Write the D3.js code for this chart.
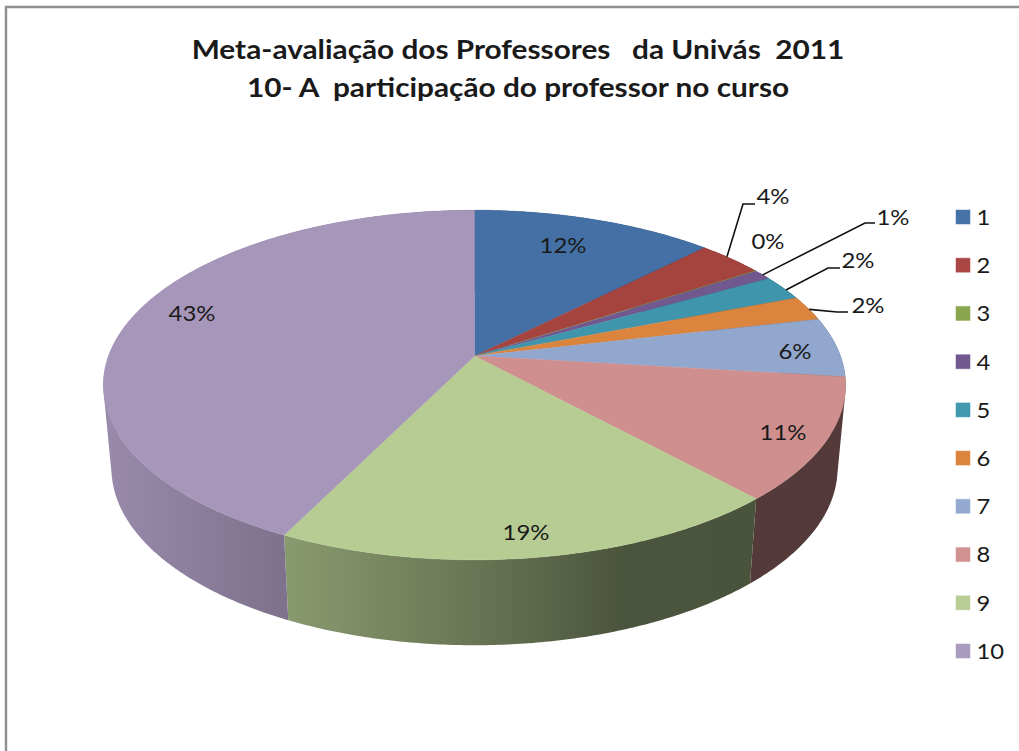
<!DOCTYPE html>
<html><head><meta charset="utf-8">
<script src="https://cdn.jsdelivr.net/npm/d3@7/dist/d3.min.js"></script>
<style>
html,body{margin:0;padding:0;background:#fff}
svg{display:block}
text{font-family:Lato,"Noto Sans",sans-serif;fill:#1a1a1a;white-space:pre}
</style></head><body>
<svg id="chart" width="1019" height="751"></svg>
<script>
const titleLines = ["Meta-avaliação dos Professores   da Univás  2011","10- A  participação do professor no curso"];
const categories = ["1","2","3","4","5","6","7","8","9","10"];
const values = [12.4,3.4,0.05,0.95,2.3,2.3,5.5,11.3,19.1,42.7];
const valueLabels = ["12%","4%","0%","1%","2%","2%","6%","11%","19%","43%"];
const colors = ["#4572A7","#AA4643","#89A54E","#71588F","#4198AF","#DB843D","#93A9CF","#D19392","#B9CD96","#A99BBD"];
const topColors = ["#4470A5","#A5433F","#89A54E","#71588F","#3F96AC","#DB843D","#91A7CD","#CF8F8E","#B7CC93","#A696BA"];

// layout (not data)
const labelPos = [[563,246],[773,197],[768,242],[893,218],[858,261],[868,306],[795,352],[783,433],[526,533],[192,314]];
const leaders = {1:[[743,204],[755,204]],3:[[865,223],[875,223]],4:[[828,268],[840,268]],5:[[837,312],[848,312]]};
const leaderAngle = {1:0.42,3:0.5,4:0.6,5:0.55};
const shadeX = [105,289,470,625,846];
const shadeK = [0.92,0.75,0.58,0.41,0.40];

const svg = d3.select("#chart");
const defs = svg.append("defs");

svg.append("path").attr("d","M6,751V7H1019").attr("fill","none").attr("stroke","#8f8f8f").attr("stroke-width",2.4);

const cx=474.5,k=0.166;
const topPlane={b:366,a:170,y:356}, botPlane={b:358,a:172,y:439};
const project=(p,t)=>{const u=Math.sin(t),v=Math.cos(t),w=1+k*v;return [cx+p.b*u/w,p.y-p.a*v/w];};

const arcs=d3.pie().sort(null).value(d=>d).startAngle(0).endAngle(2*Math.PI)(values);
const sample=(a)=>{const n=Math.max(2,Math.ceil((a.endAngle-a.startAngle)/0.01));return d3.range(n+1).map(i=>a.startAngle+(a.endAngle-a.startAngle)*i/n);};
const line=d3.line();

// side wall gradients
topColors.forEach((c,i)=>{
  const g=defs.append("linearGradient").attr("id","wall"+i).attr("gradientUnits","userSpaceOnUse")
    .attr("x1",shadeX[0]).attr("x2",shadeX[shadeX.length-1]).attr("y1",0).attr("y2",0);
  const span=shadeX[shadeX.length-1]-shadeX[0], rgb=d3.rgb(c);
  shadeX.forEach((x,j)=>{
    g.append("stop").attr("offset",(x-shadeX[0])/span)
      .attr("stop-color",d3.rgb(rgb.r*shadeK[j],rgb.g*shadeK[j],rgb.b*shadeK[j]).formatHex());
  });
});

// wall of a slice: union of consistently oriented quads between the two planes
const wallPath=a=>{
  const ts=sample(a);
  return d3.pairs(ts).map(([t0,t1])=>{
    const q=[project(topPlane,t0),project(topPlane,t1),project(botPlane,t1),project(botPlane,t0)];
    if(d3.polygonArea(q)<0) q.reverse();
    return line(q)+"Z";
  }).join("");
};
const walls=svg.append("g");
walls.selectAll("path").data(arcs).join("path")
  .attr("d",wallPath).attr("fill-rule","nonzero")
  .attr("fill",(a,i)=>`url(#wall${i})`);

const faces=svg.append("g");
faces.selectAll("path").data(arcs).join("path")
  .attr("d",a=>line([[cx,topPlane.y]].concat(sample(a).map(t=>project(topPlane,t))))+"Z")
  .attr("fill",(a,i)=>topColors[i]).attr("stroke",(a,i)=>topColors[i]).attr("stroke-width",0.4);

// leader lines
const lg=svg.append("g").attr("fill","none").attr("stroke","#111").attr("stroke-width",1.6);
Object.keys(leaders).forEach(key=>{
  const a=arcs[key],t=a.startAngle+(a.endAngle-a.startAngle)*leaderAngle[key];
  lg.append("path").attr("d",line([project(topPlane,t)].concat(leaders[key])));
});

svg.append("g").selectAll("text").data(valueLabels).join("text")
  .attr("transform",(d,i)=>`translate(${labelPos[i][0]},${labelPos[i][1]}) scale(1.14,1)`).attr("dy","0.35em")
  .attr("text-anchor","middle").attr("font-size",21).text(d=>d);

const title=svg.append("g");
title.selectAll("text").data(titleLines).join("text")
  .attr("transform",(d,i)=>`translate(518,${59+i*38}) scale(1.103,1)`).attr("text-anchor","middle")
  .attr("font-size",27).attr("font-weight",700).text(d=>d);

const legendY=d3.scalePoint().domain(categories).range([217,651]);
const lgd=svg.append("g").selectAll("g").data(categories).join("g")
  .attr("transform",d=>`translate(955.5,${legendY(d)})`);
lgd.append("rect").attr("x",0).attr("y",-7.5).attr("width",15).attr("height",15)
  .attr("fill",(d,i)=>colors[i]).attr("stroke","#fff").attr("stroke-opacity",0.5).attr("stroke-width",1);
lgd.append("text").attr("transform","translate(21,0) scale(1.08,1)").attr("dy","0.36em").attr("font-size",22).text(d=>d);
</script></body></html>
